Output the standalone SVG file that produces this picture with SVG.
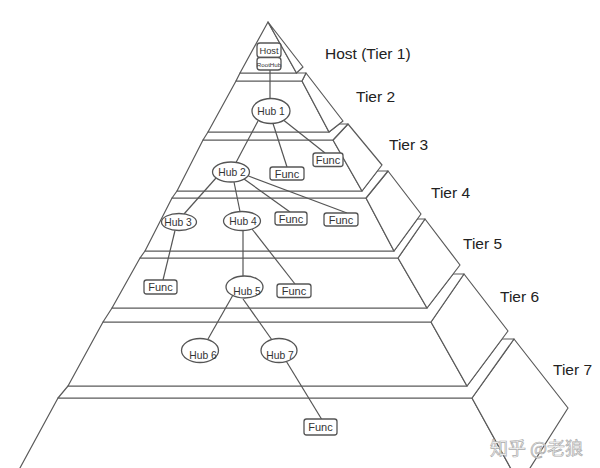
<svg xmlns="http://www.w3.org/2000/svg" width="600" height="468" viewBox="0 0 600 468">
<style>
.p{fill:#fff;stroke:#5a5a5a;stroke-width:1.2;stroke-linejoin:round}
.c{stroke:#555;stroke-width:1.2;fill:none}
.hub{fill:#fff;stroke:#555;stroke-width:1.3}
.fn{fill:#fff;stroke:#555;stroke-width:1.3}
.t{font-family:"Liberation Sans",Arial,sans-serif;fill:#333;text-anchor:middle}
.h{font-size:10.3px}
.f{font-size:11px}
.tl{font-family:"Liberation Sans",Arial,sans-serif;fill:#222;font-size:15.5px}
</style>
<rect width="600" height="468" fill="#fff"/>
<g id="pyramid">
<g id="tier7">
<polygon class="p" points="58,398 472,398 519.6,484.5 11,484.5"/>
<polygon class="p" points="472,398 514,339 568,408 519.6,484.5"/>
<polygon class="p" points="68,386 467,386 502,339 514,339 472,398 58,398"/>
</g>
<g id="tier6">
<polygon class="p" points="103,322 431,322 467,386 68,386"/>
<polygon class="p" points="431,322 464,274 508,331 467,386"/>
<polygon class="p" points="112,308 427,308 453.1,274 464,274 431,322 103,322"/>
</g>
<g id="tier5">
<polygon class="p" points="140,258 398,258 427,308 112,308"/>
<polygon class="p" points="398,258 425,219 460,265 427,308"/>
<polygon class="p" points="145,251 394,251 417.4,219 425,219 398,258 140,258"/>
</g>
<g id="tier4">
<polygon class="p" points="172,198 366,198 394,251 145,251"/>
<polygon class="p" points="366,198 388,171 421,214 394,251"/>
<polygon class="p" points="177,191 362,191 377.4,171 388,171 366,198 172,198"/>
</g>
<g id="tier3">
<polygon class="p" points="203,140 333,140 362,191 177,191"/>
<polygon class="p" points="333,140 348,124 382,165 362,191"/>
<polygon class="p" points="208,132 329,132 339.2,124 348,124 333,140 203,140"/>
</g>
<g id="tier2">
<polygon class="p" points="236,81 302,81 329,132 208,132"/>
<polygon class="p" points="302,81 306,73 343,121 329,132"/>
<polygon class="p" points="240,73 306,73 302,81 236,81"/>
</g>
<g id="tier1">
<polygon class="p" points="268,22 240,73 296.5,73"/>
<polygon class="p" points="268,22 303,67 296.5,73"/>
</g>
</g>
<g id="labels">
<text class="tl" x="325" y="59">Host (Tier 1)</text>
<text class="tl" x="356" y="102">Tier 2</text>
<text class="tl" x="389" y="150">Tier 3</text>
<text class="tl" x="431" y="198">Tier 4</text>
<text class="tl" x="463" y="249">Tier 5</text>
<text class="tl" x="500" y="302">Tier 6</text>
<text class="tl" x="553" y="375">Tier 7</text>
</g>
<g id="connectors">
<line class="c" x1="270" y1="70" x2="270" y2="98.5"/>
<line class="c" x1="258" y1="121" x2="236" y2="162.5"/>
<line class="c" x1="273" y1="123.5" x2="287" y2="167"/>
<line class="c" x1="284" y1="120.5" x2="325" y2="153"/>
<line class="c" x1="216" y1="178" x2="184" y2="214"/>
<line class="c" x1="234" y1="182" x2="240" y2="211.5"/>
<line class="c" x1="244" y1="179" x2="290" y2="212"/>
<line class="c" x1="248.5" y1="176" x2="347" y2="213"/>
<line class="c" x1="175" y1="230.5" x2="163" y2="280"/>
<line class="c" x1="243" y1="230.5" x2="243" y2="276"/>
<line class="c" x1="252" y1="229" x2="295" y2="284"/>
<line class="c" x1="233" y1="295" x2="208" y2="339"/>
<line class="c" x1="243" y1="299" x2="272" y2="340"/>
<line class="c" x1="285.5" y1="360" x2="321.5" y2="419"/>
</g>
<g id="host">
<rect class="fn" x="257" y="43" width="24" height="14.5" rx="3"/>
<rect class="fn" x="257" y="57.5" width="24" height="12.5" rx="3"/>
<text class="t" x="269" y="54" font-size="9.3">Host</text>
<text class="t" x="269" y="66.5" font-size="6.2">RootHub</text>
</g>
<g id="hub1"><ellipse class="hub" cx="271" cy="111" rx="19" ry="12.5"/><text class="t h" x="271" y="114.5">Hub 1</text></g>
<g id="hub2"><ellipse class="hub" cx="231" cy="172" rx="18.5" ry="10"/><text class="t h" x="232" y="175.5">Hub 2</text></g>
<g id="hub3"><ellipse class="hub" cx="179" cy="222" rx="17.5" ry="8.5"/><text class="t h" x="178" y="225.5">Hub 3</text></g>
<g id="hub4"><ellipse class="hub" cx="242" cy="221" rx="18.5" ry="9.5"/><text class="t h" x="243" y="224.5">Hub 4</text></g>
<g id="hub5"><ellipse class="hub" cx="244.5" cy="287" rx="18.5" ry="11"/><text class="t h" x="247" y="295">Hub 5</text></g>
<g id="hub6"><ellipse class="hub" cx="200" cy="350.5" rx="18.5" ry="12"/><text class="t h" x="203" y="358.5">Hub 6</text></g>
<g id="hub7"><ellipse class="hub" cx="279" cy="350.5" rx="18" ry="12"/><text class="t h" x="280" y="358.5">Hub 7</text></g>
<g id="func1"><rect class="fn" x="270" y="167" width="34" height="13" rx="2.5"/><text class="t f" x="287" y="177.5">Func</text></g>
<g id="func2"><rect class="fn" x="313" y="153" width="30" height="13.5" rx="2.5"/><text class="t f" x="328" y="164">Func</text></g>
<g id="func3"><rect class="fn" x="275" y="212" width="32" height="13" rx="2.5"/><text class="t f" x="291" y="222.5">Func</text></g>
<g id="func4"><rect class="fn" x="324" y="213" width="34" height="13" rx="2.5"/><text class="t f" x="341" y="223.5">Func</text></g>
<g id="func5"><rect class="fn" x="144" y="280" width="33" height="14" rx="2.5"/><text class="t f" x="160.5" y="291">Func</text></g>
<g id="func6"><rect class="fn" x="277" y="284" width="34" height="13.5" rx="2.5"/><text class="t f" x="294" y="295">Func</text></g>
<g id="func7"><rect class="fn" x="304" y="419" width="33" height="16" rx="2.5"/><text class="t f" x="320.5" y="431">Func</text></g>
<text x="490" y="455" font-family="'Noto Sans CJK SC',sans-serif" font-size="18" fill="#fff" stroke="#aaa" stroke-width="0.7">知乎 @老狼</text>
</svg>
